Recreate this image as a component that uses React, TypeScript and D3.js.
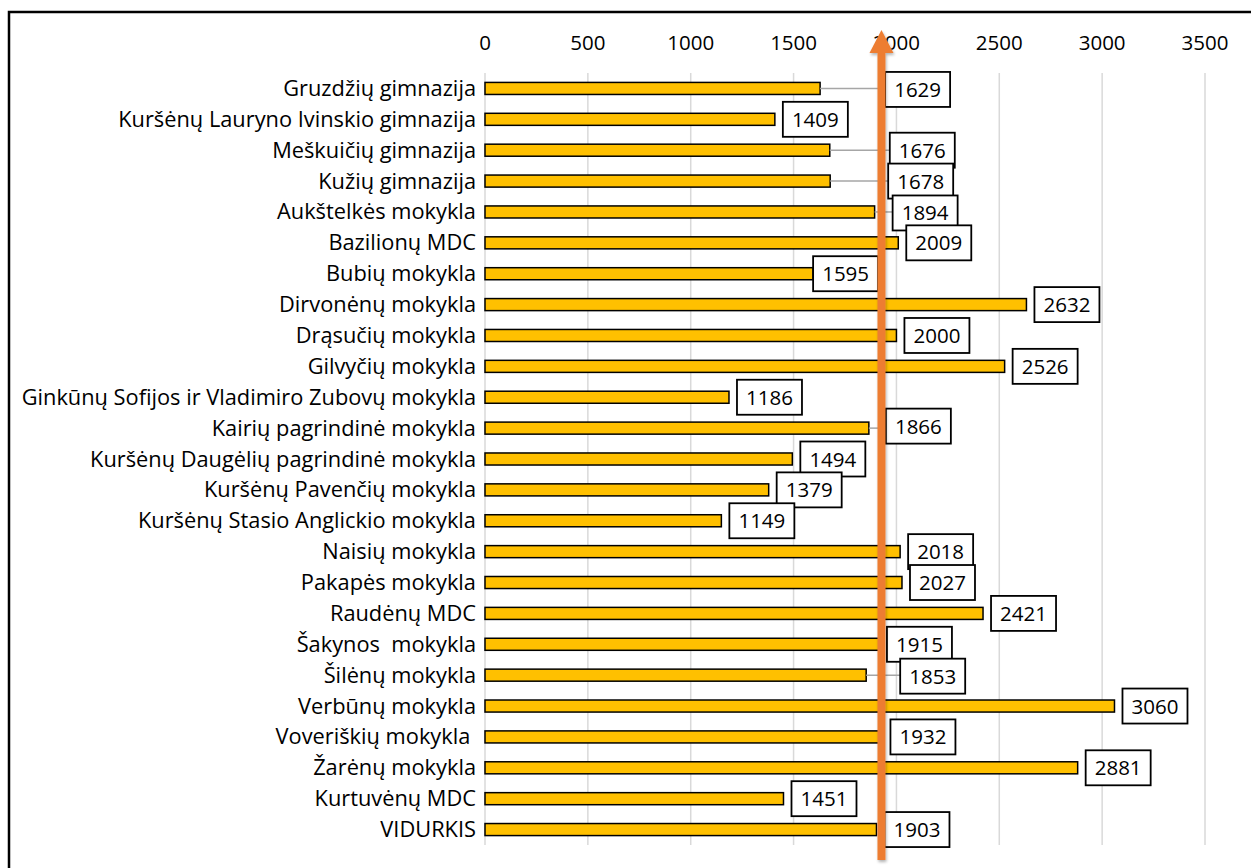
import React from "react";
import * as d3 from "d3";

const categories = [
  "Gruzdžių gimnazija",
  "Kuršėnų Lauryno Ivinskio gimnazija",
  "Meškuičių gimnazija",
  "Kužių gimnazija",
  "Aukštelkės mokykla",
  "Bazilionų MDC",
  "Bubių mokykla",
  "Dirvonėnų mokykla",
  "Drąsučių mokykla",
  "Gilvyčių mokykla",
  "Ginkūnų Sofijos ir Vladimiro Zubovų mokykla",
  "Kairių pagrindinė mokykla",
  "Kuršėnų Daugėlių pagrindinė mokykla",
  "Kuršėnų Pavenčių mokykla",
  "Kuršėnų Stasio Anglickio mokykla",
  "Naisių mokykla",
  "Pakapės mokykla",
  "Raudėnų MDC",
  "Šakynos  mokykla",
  "Šilėnų mokykla",
  "Verbūnų mokykla",
  "Voveriškių mokykla ",
  "Žarėnų mokykla",
  "Kurtuvėnų MDC",
  "VIDURKIS",
];

const values = [
  1629, 1409, 1676, 1678, 1894, 2009, 1595, 2632, 2000, 2526, 1186, 1866, 1494,
  1379, 1149, 2018, 2027, 2421, 1915, 1853, 3060, 1932, 2881, 1451, 1903,
];

const tickValues = [0, 500, 1000, 1500, 2000, 2500, 3000, 3500];

const averageValue = 1903;

// manual label nudges (px) as placed in the original chart
const labelNudges: [number, number][] = [
  [57, 1], [0, 0], [52, 0], [50, 0], [10, 1], [0, 0], [-8, 0], [0, 0], [0, 0], [0, 0],
  [0, 0], [9, -2], [0, 0], [0, 0], [0, 0], [0, 0], [0, 0], [0, 0], [0, 0], [26, 1],
  [0, 0], [0, 0], [0, 0], [0, 0], [0, 0],
];

const W = 1251;
const H = 868;
const FONT = "'Open Sans', Lato, sans-serif";

export default function App() {
  const x = d3.scaleLinear().domain([0, 3500]).range([485, 1205]);
  const y = d3
    .scaleBand<string>()
    .domain(categories)
    .range([73, 845])
    .paddingInner(0.61)
    .paddingOuter(0.305);
  const bw = y.bandwidth();
  const boxW = 65;
  const boxH = 35;
  const arrowX = x(averageValue) + 5;

  return (
    <svg
      width={W}
      height={H}
      style={{ position: "absolute", left: 0, top: 0, background: "#fff" }}
      fontFamily={FONT}
    >
      <rect x={0} y={0} width={W} height={H} fill="#fff" />
      <rect x={9} y={12} width={W + 10} height={H + 10} fill="none" stroke="#000" strokeWidth={2.5} />
      {tickValues.map((t) => (
        <g key={t}>
          <line x1={x(t)} x2={x(t)} y1={73} y2={845} stroke="#D9D9D9" strokeWidth={1.5} />
          <text x={x(t)} y={50} textAnchor="middle" fontSize={20.5} fill="#000">
            {t}
          </text>
        </g>
      ))}
      {categories.map((c, i) => {
        const yc = (y(c) as number) + bw / 2;
        return (
          <text key={"l" + i} x={476} y={yc + 7.5} textAnchor="end" fontSize={21.8} fill="#000" style={{ whiteSpace: "pre" }}>
            {c}
          </text>
        );
      })}
      {categories.map((c, i) => (
        <rect
          key={"b" + i}
          x={x(0)}
          y={y(c) as number}
          width={x(values[i]) - x(0)}
          height={bw}
          fill="#FFC000"
          stroke="#000"
          strokeWidth={1.5}
        />
      ))}
      {categories.map((c, i) => {
        const yc = (y(c) as number) + bw / 2;
        const end = x(values[i]);
        const [dx, dy] = labelNudges[i];
        const bx = end + 8 + dx;
        const by = yc - boxH / 2 + dy;
        const leader = dx > 8;
        const ly = Math.max(by + 4, Math.min(by + boxH - 4, yc));
        return (
          <g key={"d" + i}>
            {leader && <line x1={end} y1={yc} x2={bx} y2={ly} stroke="#A6A6A6" strokeWidth={1.5} />}
            <rect x={bx} y={by} width={boxW} height={boxH} fill="#fff" stroke="#000" strokeWidth={1.8} />
            <text x={bx + boxW / 2} y={by + boxH / 2 + 7.5} textAnchor="middle" fontSize={20.5} fill="#000">
              {values[i]}
            </text>
          </g>
        );
      })}
      <defs>
        <filter id="sh" x="-50%" y="-5%" width="200%" height="110%">
          <feGaussianBlur in="SourceAlpha" stdDeviation="1.5" />
          <feOffset dx="1" dy="2" result="o" />
          <feComponentTransfer>
            <feFuncA type="linear" slope="0.3" />
          </feComponentTransfer>
          <feMerge>
            <feMergeNode />
            <feMergeNode in="SourceGraphic" />
          </feMerge>
        </filter>
      </defs>
      <g filter="url(#sh)">
        <rect x={arrowX - 4} y={50} width={8} height={810} fill="#ED7D31" />
        <path d={`M${arrowX},30 L${arrowX + 12},53 L${arrowX - 12},53 Z`} fill="#ED7D31" />
      </g>
    </svg>
  );
}
